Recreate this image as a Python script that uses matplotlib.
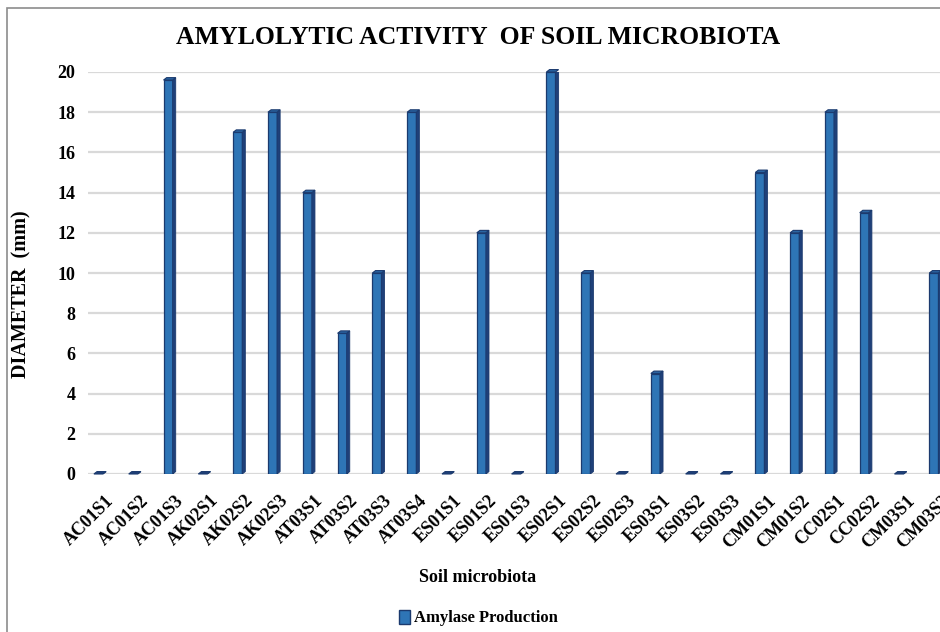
import matplotlib
matplotlib.use("Agg")
import matplotlib.pyplot as plt
from matplotlib.patches import Rectangle, Polygon
import numpy as np

categories = ["AC01S1", "AC01S2", "AC01S3", "AK02S1", "AK02S2", "AK02S3",
              "AT03S1", "AT03S2", "AT03S3", "AT03S4", "ES01S1", "ES01S2",
              "ES01S3", "ES02S1", "ES02S2", "ES02S3", "ES03S1", "ES03S2",
              "ES03S3", "CM01S1", "CM01S2", "CC02S1", "CC02S2", "CM03S1",
              "CM03S2"]
amylase = [0, 0, 19.6, 0, 17, 18, 14, 7, 10, 18, 0, 12, 0, 20, 10, 0, 5, 0,
           0, 15, 12, 18, 13, 0, 10]
yticks = [0, 2, 4, 6, 8, 10, 12, 14, 16, 18, 20]

plt.rcParams['font.family'] = ['Liberation Serif', 'DejaVu Serif']
plt.rcParams['font.weight'] = 'bold'

W, H = 940, 632
fig = plt.figure(figsize=(W / 100, H / 100), dpi=100)

# outer chart border (clipped at right and bottom like the reference)
fig.patches.append(Rectangle((7 / W, -0.05), 1.2, (H - 8) / H + 0.05,
                             transform=fig.transFigure, fill=False,
                             edgecolor='#8c8c8c', lw=1.2, zorder=0))

ax = fig.add_axes([88 / W, (H - 474) / H, 865 / W, (474 - 72) / H])
ax.set_xlim(-0.35, 24.5)
ax.set_ylim(0, 20)

for y in yticks:
    ax.axhline(y, color='#d9d9d9', lw=1.6, zorder=0)

x = np.arange(len(categories))
front_w = 0.26
depth_dx = 0.09
depth_dy = 0.12
front_col = '#2e75b6'
side_col = '#1f4079'
edge_col = '#1b3a6e'

ax.bar(x - 0.05, amylase, width=front_w, color=front_col,
       edgecolor=edge_col, lw=0.9, zorder=3)
for xi, v in zip(x, amylase):
    x0 = xi - 0.05 - front_w / 2
    x1 = x0 + front_w
    side = Polygon([(x1, 0), (x1 + depth_dx, depth_dy),
                    (x1 + depth_dx, v + depth_dy), (x1, v)],
                   closed=True, facecolor=side_col, edgecolor=edge_col,
                   lw=0.6, zorder=3)
    top = Polygon([(x0, v), (x1, v), (x1 + depth_dx, v + depth_dy),
                   (x0 + depth_dx, v + depth_dy)],
                  closed=True, facecolor=side_col if v == 0 else '#2a65a3',
                  edgecolor=edge_col, lw=0.8, zorder=4, clip_on=False)
    ax.add_patch(side)
    ax.add_patch(top)

for s in ax.spines.values():
    s.set_visible(False)

ax.set_yticks(yticks)
ax.set_yticklabels([str(t) for t in yticks], fontsize=13, fontweight='bold')
ax.tick_params(axis='y', length=0, pad=9)
ax.set_xticks(x + 0.15)
ax.set_xticklabels(categories, rotation=45, ha='right', va='top',
                   rotation_mode='anchor', fontsize=13, fontweight='bold')
ax.tick_params(axis='x', length=0, pad=13)

ax.set_ylabel('DIAMETER  (mm)', fontsize=14.5, fontweight='bold')
ax.yaxis.set_label_coords((31 - 88) / 865, (474 - 294) / 402)

fig.text(478 / W, 1 - 38 / H, 'AMYLOLYTIC ACTIVITY  OF SOIL MICROBIOTA',
         ha='center', va='center', fontsize=18.5, fontweight='bold')
fig.text(478 / W, 1 - 578 / H, 'Soil microbiota', ha='center', va='center',
         fontsize=13, fontweight='bold')

handle = Rectangle((0, 0), 1, 1, facecolor=front_col, edgecolor=edge_col, lw=1)
fig.legend([handle], ['Amylase Production'], loc='center',
           bbox_to_anchor=(478 / W, 1 - 618 / H), frameon=False,
           prop={'size': 12, 'weight': 'bold'}, handlelength=0.7,
           handleheight=0.9, handletextpad=0.2)

fig.savefig('out.png', dpi=100)
